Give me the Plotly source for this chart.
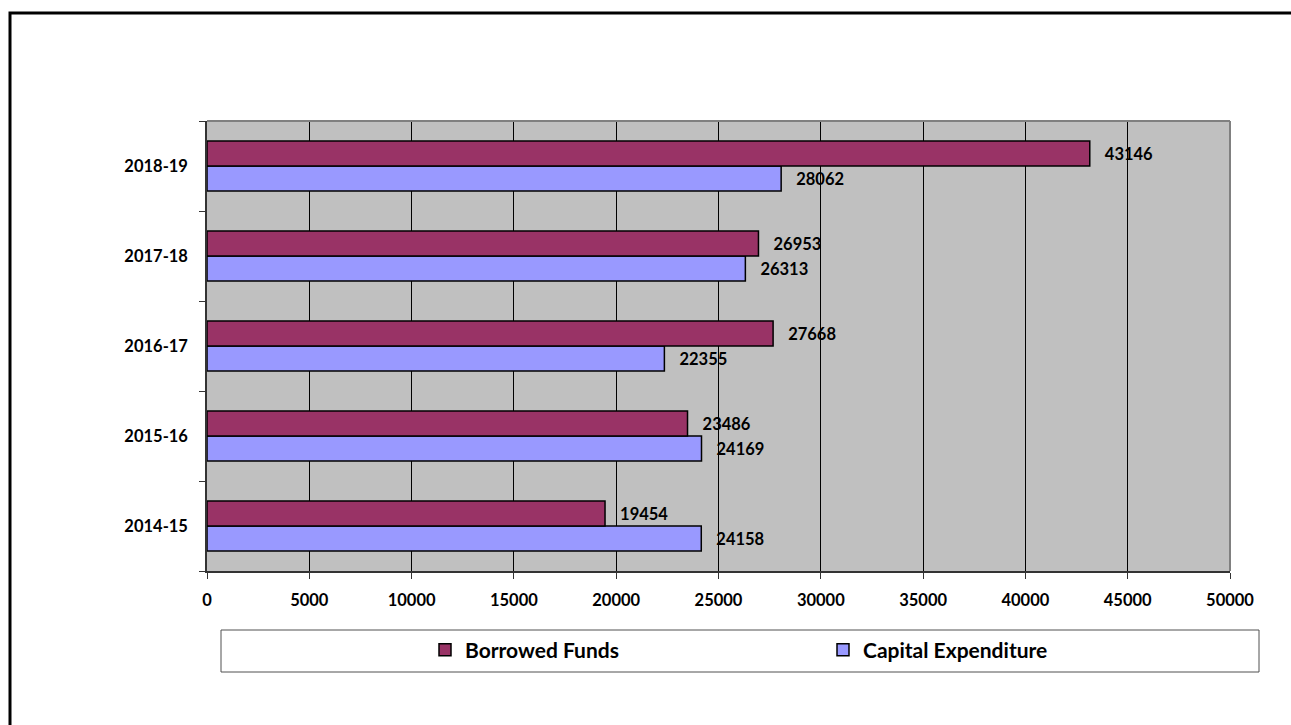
import plotly.graph_objects as go

# ---- data ----
years = ["2014-15", "2015-16", "2016-17", "2017-18", "2018-19"]
borrowed_funds = [19454, 23486, 27668, 26953, 43146]
capital_expenditure = [24158, 24169, 22355, 26313, 28062]
x_ticks = [0, 5000, 10000, 15000, 20000, 25000, 30000, 35000, 40000, 45000, 50000]

W, H = 1291, 725
L, R, T, B = 207, 61, 121, 154
PW, PH = W - L - R, H - T - B


def px(x):
    return (x - L) / PW


def py(y):
    return (H - B - y) / PH


FONT = "Lato"
NB = "\u00a0"
TICK_SIZE = 16.5

fig = go.Figure()
fig.add_trace(go.Bar(
    name="Capital Expenditure", y=years, x=capital_expenditure, orientation="h",
    marker=dict(color="#9999FF", line=dict(color="black", width=1.5)),
    text=[f"{NB*3}{v}" for v in capital_expenditure], textposition="outside",
    constraintext="none", cliponaxis=False,
    textfont=dict(family=FONT, size=TICK_SIZE, color="black", weight="bold"),
))
fig.add_trace(go.Bar(
    name="Borrowed Funds", y=years, x=borrowed_funds, orientation="h",
    marker=dict(color="#993366", line=dict(color="black", width=1.5)),
    text=[f"{NB*3}{v}" for v in borrowed_funds], textposition="outside",
    constraintext="none", cliponaxis=False,
    textfont=dict(family=FONT, size=TICK_SIZE, color="black", weight="bold"),
))

shapes = [
    # plot area top/right border (gray)
    dict(type="line", xref="paper", yref="paper", x0=0, x1=1, y0=1, y1=1,
         line=dict(color="#808080", width=2)),
    dict(type="line", xref="paper", yref="paper", x0=1, x1=1, y0=0, y1=1,
         line=dict(color="#808080", width=2)),
    # legend box
    dict(type="rect", xref="paper", yref="paper", x0=px(221), x1=px(1259),
         y0=py(672), y1=py(630), line=dict(color="#505050", width=1),
         fillcolor="rgba(0,0,0,0)"),
    # outer chart border
    dict(type="rect", xref="paper", yref="paper", x0=px(10), x1=px(1310),
         y0=py(745), y1=py(13), line=dict(color="black", width=3),
         fillcolor="rgba(0,0,0,0)"),
]

fig.update_layout(
    width=W, height=H,
    margin=dict(l=L, r=R, t=T, b=B, pad=0, autoexpand=False),
    paper_bgcolor="white", plot_bgcolor="#C0C0C0",
    barmode="group", bargap=40 / 90, bargroupgap=0,
    font=dict(family=FONT, size=TICK_SIZE, color="black", weight="bold"),
    xaxis=dict(
        range=[0, 50000], tickvals=x_ticks, ticktext=[str(v) for v in x_ticks],
        showgrid=True, gridcolor="black", gridwidth=1, zeroline=False,
        showline=True, linecolor="#333333", linewidth=1.5,
        ticks="outside", ticklen=6, tickcolor="#333333", tickwidth=1,
        tickfont=dict(family=FONT, size=TICK_SIZE, color="black", weight="bold"),
        ticklabelstandoff=7, fixedrange=True,
    ),
    yaxis=dict(
        categoryorder="array", categoryarray=years,
        showgrid=False, zeroline=False,
        showline=True, linecolor="#333333", linewidth=1.5,
        ticks="outside", ticklen=6, tickcolor="#333333", tickson="boundaries",
        tickfont=dict(family=FONT, size=TICK_SIZE, color="black", weight="bold"),
        ticklabelstandoff=14, fixedrange=True,
    ),
    legend=dict(
        orientation="h", traceorder="reversed",
        x=px(425), xanchor="left", y=py(650), yanchor="middle",
        bgcolor="rgba(0,0,0,0)", borderwidth=0,
        font=dict(family=FONT, size=21, color="black", weight="bold"),
        entrywidth=353, entrywidthmode="pixels",
    ),
    shapes=shapes,
    showlegend=True,
)

fig.write_html(
    "out.html",
    config={"displayModeBar": False},
    post_script="document.body.style.margin='0';document.body.style.padding='0';",
)
